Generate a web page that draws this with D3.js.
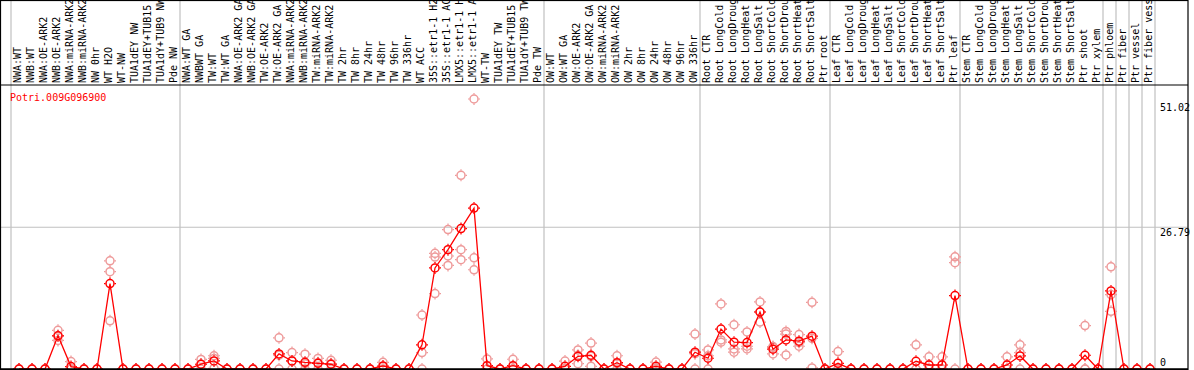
<!DOCTYPE html>
<html>
<head>
<meta charset="utf-8">
<script src="https://cdn.jsdelivr.net/npm/d3@7/dist/d3.min.js"></script>
<style>
  body { margin: 0; background: #fff; }
  svg { display: block; }
  text { font-family: "DejaVu Sans Mono", "Liberation Mono", monospace; font-size: 10px; }
</style>
</head>
<body>
<div id="chart"></div>
<script>
// gene shown
var gene = "Potri.009G096900";

// sample names (cut to 14 chars like the source)
var samples = ["NWA:WT", "NWB:WT", "NWA:OE-ARK2", "NWB:OE-ARK2", "NWA:miRNA-ARK2", "NWB:miRNA-ARK2",
  "NW 0hr", "WT H2O", "WT-NW", "TUA1dEY NW", "TUA1dEY+TUB15", "TUA1dY+TUB9 NW", "Pde NW",
  "NWA:WT GA", "NWBWT GA", "TW:WT", "TW:WT GA", "NWA:OE-ARK2 GA", "NWB:OE-ARK2 GA", "TW:OE-ARK2",
  "TW:OE-ARK2 GA", "NWA:miRNA-ARK2", "NWB:miRNA-ARK2", "TW:miRNA-ARK2", "TW:miRNA-ARK2",
  "TW 2hr", "TW 8hr", "TW 24hr", "TW 48hr", "TW 96hr", "TW 336hr", "WT ACC",
  "35S::etr1-1 H2", "35S::etr1-1 AC", "LMX5::etr1-1 H", "LMX5::etr1-1 A", "WT-TW", "TUA1dEY TW",
  "TUA1dEY+TUB15", "TUA1dY+TUB9 TW", "Pde TW",
  "OW:WT", "OW:WT GA", "OW:OE-ARK2", "OW:OE-ARK2 GA", "OW:miRNA-ARK2", "OW:miRNA-ARK2",
  "OW 2hr", "OW 8hr", "OW 24hr", "OW 48hr", "OW 96hr", "OW 336hr",
  "Root CTR", "Root LongCold", "Root LongDroug", "Root LongHeat", "Root LongSalt",
  "Root ShortCold", "Root ShortDrou", "Root ShortHeat", "Root ShortSalt", "Ptr root",
  "Leaf CTR", "Leaf LongCold", "Leaf LongDroug", "Leaf LongHeat", "Leaf LongSalt",
  "Leaf ShortCold", "Leaf ShortDrou", "Leaf ShortHeat", "Leaf ShortSalt", "Ptr leaf",
  "Stem CTR", "Stem LongCold", "Stem LongDroug", "Stem LongHeat", "Stem LongSalt",
  "Stem ShortCold", "Stem ShortDrou", "Stem ShortHeat", "Stem ShortSalt", "Ptr shoot",
  "Ptr xylem", "Ptr phloem", "Ptr fiber", "Ptr vessel", "Ptr fiber vess"];

// index where each experiment group starts (last one = end)
var groupStarts = [0, 13, 41, 53, 63, 73, 84, 85, 86, 87, 88];

// mean expression per sample
var means = [0, 0, 0, 6.27, 0.45, 0, 0, 16.15, 0, 0, 0, 0, 0,
  0, 0.9, 1.52, 0, 0, 0, 0, 2.85, 1.52, 1.27, 1.08, 0.9, 0, 0, 0, 0.57, 0, 0, 4.56,
  19.1, 22.55, 26.54, 30.4, 0.63, 0, 0.63, 0, 0,
  0, 0.5, 2.4, 2.6, 0, 1.2, 0, 0, 0.5, 0, 0, 3.17,
  2.03, 7.54, 5.07, 5.0, 10.77, 3.74, 5.5, 5.26, 6.2, 0,
  1.08, 0, 0, 0, 0, 0, 1.46, 0.76, 0.76, 13.87,
  0, 0, 0, 0.76, 2.47, 0, 0, 0, 0, 2.6, 0, 14.76, 0, 0, 0];

// replicate values per sample
var reps = [[0,0,0],[0,0,0],[0,0,0],[7.3,6.3,5.4],[1.4,0,0],[0,0,0],[0,0,0],[20.45,18.4,9.1],
  [0,0,0],[0,0,0],[0,0,0],[0,0,0],[0,0,0],
  [0,0,0],[1.8,0.9,0],[2.5,2.0,0.1],[0,0,0],[0,0,0],[0,0,0],[0,0,0],[5.9,2.6,0],
  [3.1,1.5,0],[2.8,1.0,0],[2.0,1.2,0],[1.65,1.0,0],[0,0,0],[0,0,0],[0,0,0],[1.27,0.45,0],
  [0,0,0],[0,0,0],[10.2,3.1,0],[21.85,21.15,14.25],[26.35,21.35,19.57],[36.6,22.55,20.65],
  [51.02,21.0,18.75],[1.9,0,0],[0,0,0],[1.84,0.05,0],[0,0,0],[0,0,0],
  [0,0,0],[1.5,0,0],[3.6,2.6,1.0],[4.9,2.4,0.5],[0,0,0],[2.5,1.0,0],[0,0,0],[0,0,0],
  [1.3,0.2,0],[0,0,0],[0,0,0],[6.6,2.9,0],
  [3.6,2.5,0],[12.3,5.5,5.07],[8.36,3.8,3.17],[7.0,4.3,3.8],[12.67,10.8,8.87],[4.24,4.1,2.85],
  [7.1,6.6,2.66],[6.5,5.0,4.3],[12.6,5.8,0.2],[0,0,0],
  [3.3,0,0],[0,0,0],[0,0,0],[0,0,0],[0,0,0],[0,0,0],[4.56,0,0],[2.3,0,0],[2.3,0,0],[21.2,20.1,0],
  [0,0,0],[0,0,0],[0,0,0],[2.3,0,0],[4.56,3.1,0],[0,0,0],[0,0,0],[0,0,0],[0,0,0],
  [8.2,0,0],[0,0,0],[19.3,14.06,10.9],[0,0,0],[0,0,0],[0,0,0]];

// y tick labels
var yTicks = [0, 26.79, 51.02];

var W = 1194, H = 370,
    labelH = 85,        // height of the sample name strip
    right = 1188;

var svg = d3.select("#chart").append("svg")
    .attr("width", W)
    .attr("height", H);

// one 13px band per sample
var x = d3.scaleBand()
    .domain(d3.range(samples.length))
    .range([11, 11 + 13 * samples.length])
    .padding(0);
var px = function(i) { return x(i) + 8; };

var y = d3.scaleLinear()
    .domain([0, 51.02])
    .range([369, 99]);

// group separators (full height)
svg.append("g")
  .selectAll("line")
  .data(groupStarts)
  .enter().append("line")
    .attr("x1", function(d) { return x(d) !== undefined ? x(d) : x.range()[1]; })
    .attr("x2", function(d) { return x(d) !== undefined ? x(d) : x.range()[1]; })
    .attr("y1", 0).attr("y2", H)
    .attr("stroke", "#c0c0c0")
    .attr("stroke-width", 1.2);

// horizontal guide at the middle tick
svg.append("line")
    .attr("x1", 0).attr("x2", right)
    .attr("y1", y(26.79)).attr("y2", y(26.79))
    .attr("stroke", "#c0c0c0")
    .attr("stroke-width", 1.2);

// sample names, rotated
svg.append("clipPath").attr("id", "labclip")
  .append("rect").attr("x", 0).attr("y", 1).attr("width", right).attr("height", labelH - 2);

svg.append("g")
    .attr("clip-path", "url(#labclip)")
  .selectAll("text")
  .data(samples)
  .enter().append("text")
    .attr("transform", function(d, i) { return "translate(" + (x(i) + 10) + "," + 83 + ") rotate(-90)"; })
    .attr("fill", "#000")
    .text(function(d) { return d; });

// plot area
svg.append("clipPath").attr("id", "plotclip")
  .append("rect").attr("x", 1).attr("y", labelH + 1).attr("width", right - 1).attr("height", H - labelH);

var plot = svg.append("g").attr("clip-path", "url(#plotclip)");

function marker(g, color) {
  g.append("circle")
    .attr("r", 4)
    .attr("fill", "none")
    .attr("stroke", color)
    .attr("stroke-width", 1.5);
  g.append("path")
    .attr("d", "M0,-4.5V-6M0,4.5V6M-4.5,0H-6M4.5,0H6")
    .attr("stroke", color)
    .attr("stroke-width", 1.2);
}

// replicates
var repPts = [];
reps.forEach(function(r, i) { r.forEach(function(v) { repPts.push({i: i, v: v}); }); });

plot.append("g")
  .selectAll("g")
  .data(repPts)
  .enter().append("g")
    .attr("transform", function(d) { return "translate(" + px(d.i) + "," + y(d.v) + ")"; })
    .each(function() { marker(d3.select(this), "#ee9a9a"); });

// mean line
plot.append("path")
    .datum(means)
    .attr("fill", "none")
    .attr("stroke", "#ff0000")
    .attr("stroke-width", 1.3)
    .attr("d", d3.line()
        .x(function(d, i) { return px(i); })
        .y(function(d) { return y(d); }));

// mean markers
plot.append("g")
  .selectAll("g")
  .data(means)
  .enter().append("g")
    .attr("transform", function(d, i) { return "translate(" + px(i) + "," + y(d) + ")"; })
    .each(function() { marker(d3.select(this), "#ff0000"); });

// frame
svg.append("rect")
    .attr("x", 0.5).attr("y", 0.5)
    .attr("width", right - 0.5).attr("height", H - 1)
    .attr("fill", "none")
    .attr("stroke", "#000")
    .attr("stroke-width", 1.2);
svg.append("line")
    .attr("x1", 0).attr("x2", right)
    .attr("y1", labelH).attr("y2", labelH)
    .attr("stroke", "#000")
    .attr("stroke-width", 1.2);
svg.append("line")
    .attr("x1", 0).attr("x2", right)
    .attr("y1", 369).attr("y2", 369)
    .attr("stroke", "#000")
    .attr("stroke-width", 1.5);

// gene name
svg.append("text")
    .attr("x", 10).attr("y", 101)
    .attr("fill", "#ff0000")
    .text(gene);

// y tick labels
svg.append("g")
  .selectAll("text")
  .data(yTicks)
  .enter().append("text")
    .attr("x", 1160)
    .attr("y", function(d) { return y(d) + (d === 0 ? -3 : (d === 51.02 ? 12 : 9)); })
    .attr("fill", "#000")
    .text(function(d) { return d; });
</script>
</body>
</html>
